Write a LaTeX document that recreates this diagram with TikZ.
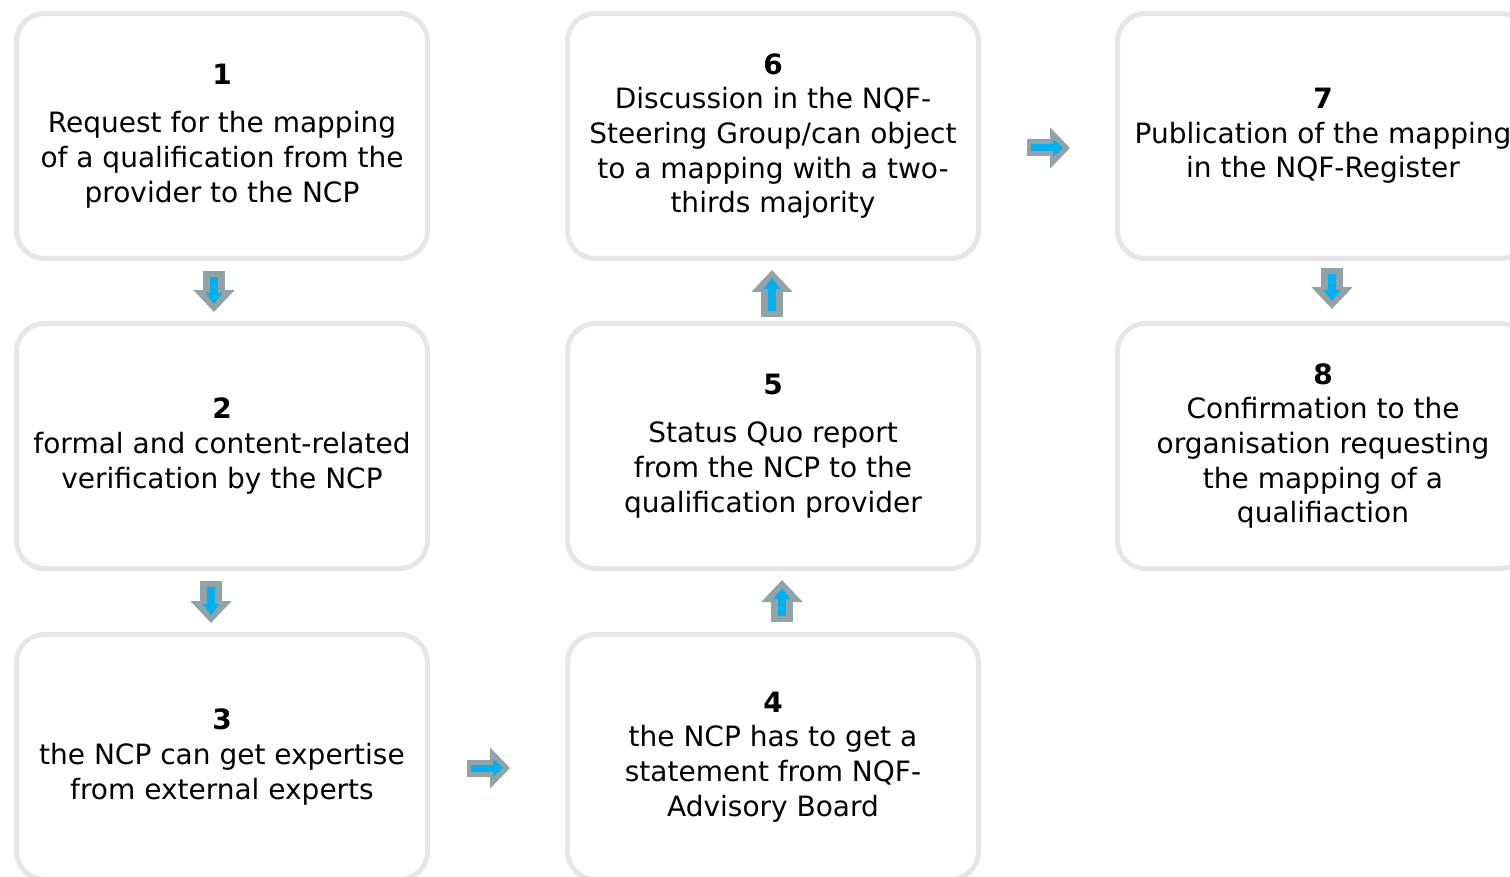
\documentclass[tikz,border=0pt]{standalone}
\usepackage{fontspec}
\setmainfont{DejaVu Sans}
\usetikzlibrary{arrows.meta}
\definecolor{boxgray}{RGB}{230,230,230}
\definecolor{arrowgray}{RGB}{146,163,168}
\definecolor{flowcyan}{RGB}{0,176,240}
\tikzset{
  stepbox/.style={draw=boxgray, line width=5pt, rounded corners=28pt, minimum width=411pt, minimum height=245pt, align=center, font=\fontsize{28}{34.7}\selectfont},
  vouter/.style={line width=22pt, draw=arrowgray, -{Triangle[length=22pt,width=40pt]}, shorten <=10pt, shorten >=9pt},
  vinner/.style={line width=8pt, draw=flowcyan, -{Triangle[length=11pt,width=16pt]}, shorten <=16pt, shorten >=17pt},
  houter/.style={line width=17pt, draw=arrowgray, -{Triangle[length=20pt,width=40pt]}},
  hinner/.style={line width=7pt, draw=flowcyan, -{Triangle[length=10pt,width=17pt]}}
}
\begin{document}
\begin{tikzpicture}[x=1pt, y=1pt]
    \fill[white] (0,0) rectangle (1510,-877);
    \useasboundingbox (0,0) rectangle (1510,-877);

    % first column
    \node[stepbox] (s1) at (222,-136) {\textbf{1}\\[14pt]Request for the mapping\\of a qualification from the\\provider to the NCP};
    \node[stepbox] (s2) at (222,-446) {\textbf{2}\\formal and content-related\\verification by the NCP};
    \node[stepbox] (s3) at (222,-757) {\textbf{3}\\the NCP can get expertise\\from external experts};

    % second column
    \node[stepbox] (s4) at (773,-757) {\textbf{4}\\the NCP has to get a\\statement from NQF-\\Advisory Board};
    \node[stepbox] (s5) at (773,-446) {\textbf{5}\\[14pt]Status Quo report\\from the NCP to the\\qualification provider};
    \node[stepbox] (s6) at (773,-136) {\textbf{6}\\Discussion in the NQF-\\Steering Group/can object\\to a mapping with a two-\\thirds majority};

    % third column
    \node[stepbox] (s7) at (1323,-136) {\textbf{7}\\Publication of the mapping\\in the NQF-Register};
    \node[stepbox] (s8) at (1323,-446) {\textbf{8}\\Confirmation to the\\organisation requesting\\the mapping of a\\qualifiaction};

    % block arrows
    \draw[vouter] ([xshift=-8pt]s1.south) -- ([xshift=-8pt]s2.north);
    \draw[vinner] ([xshift=-8pt]s1.south) -- ([xshift=-8pt]s2.north);
    \draw[vouter] ([xshift=-11pt]s2.south) -- ([xshift=-11pt]s3.north);
    \draw[vinner] ([xshift=-11pt]s2.south) -- ([xshift=-11pt]s3.north);
    \draw[houter, shorten <=37pt, shorten >=55pt] ([yshift=-11pt]s3.east) -- ([yshift=-11pt]s4.west);
    \draw[hinner, shorten <=41pt, shorten >=62pt] ([yshift=-11pt]s3.east) -- ([yshift=-11pt]s4.west);
    \draw[vouter] ([xshift=9pt]s4.north) -- ([xshift=9pt]s5.south);
    \draw[vinner] ([xshift=9pt]s4.north) -- ([xshift=9pt]s5.south);
    \draw[vouter, shorten <=4pt] ([xshift=-1pt]s5.north) -- ([xshift=-1pt]s6.south);
    \draw[vinner, shorten <=10pt] ([xshift=-1pt]s5.north) -- ([xshift=-1pt]s6.south);
    \draw[houter, shorten <=46pt, shorten >=45pt] ([yshift=-12pt]s6.east) -- ([yshift=-12pt]s7.west);
    \draw[hinner, shorten <=50pt, shorten >=52pt] ([yshift=-12pt]s6.east) -- ([yshift=-12pt]s7.west);
    \draw[vouter, shorten <=7pt, shorten >=12pt] ([xshift=9pt]s7.south) -- ([xshift=9pt]s8.north);
    \draw[vinner, shorten <=13pt, shorten >=20pt] ([xshift=9pt]s7.south) -- ([xshift=9pt]s8.north);
\end{tikzpicture}
\end{document}
